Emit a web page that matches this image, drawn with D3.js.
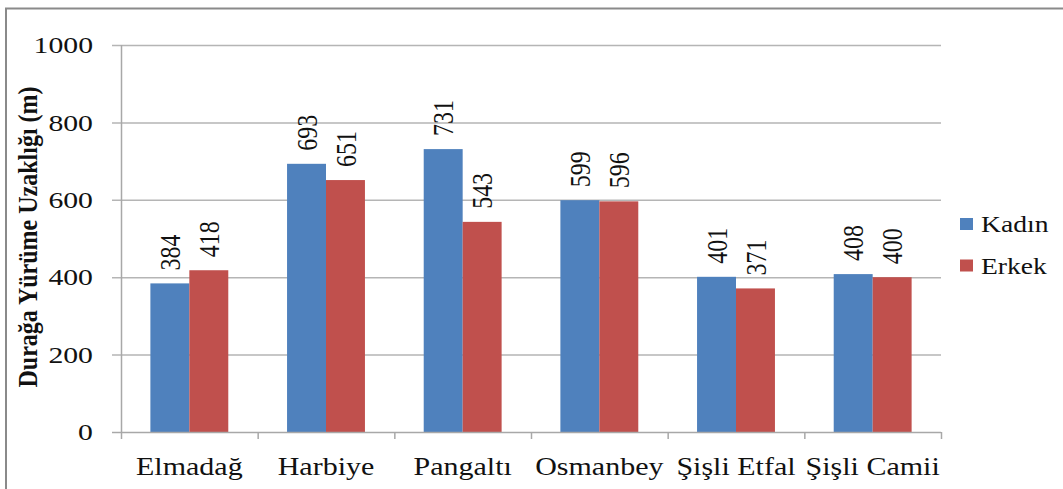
<!DOCTYPE html>
<html>
<head>
<meta charset="utf-8">
<script src="https://cdn.jsdelivr.net/npm/d3@7"></script>
<style>
  html, body { margin: 0; padding: 0; background: #fff; }
  svg { display: block; }
</style>
</head>
<body>
<svg id="chart" width="1063" height="489"></svg>
<script>
const categories = ["Elmadağ", "Harbiye", "Pangaltı", "Osmanbey", "Şişli Etfal", "Şişli Camii"];
const seriesNames = ["Kadın", "Erkek"];
const kadin = [384, 693, 731, 599, 401, 408];
const erkek = [418, 651, 543, 596, 371, 400];
const yTicks = [0, 200, 400, 600, 800, 1000];
const yTitle = "Durağa Yürüme Uzaklığı (m)";
const colors = ["#4F81BD", "#C0504D"];

(function () {
const SX = 1.24; // horizontal stretch of the original image
const FONT = "'Liberation Serif', Tinos, 'Times New Roman', Times, serif";

const svg = d3.select("#chart")
  .attr("font-family", FONT);
const W = 1063, H = 489;

// outer frame
svg.append("rect").attr("x", 6).attr("y", 8.5).attr("width", W + 20).attr("height", H + 20)
  .attr("fill", "none").attr("stroke", "#8a8a8a").attr("stroke-width", 2);

const pL = 121, pR = 941, pT = 45, pB = 432;

const x0 = d3.scaleBand().domain(categories).range([pL, pR]).padding(0);
const x1 = d3.scaleBand().domain(seriesNames)
  .range([x0.bandwidth() * 0.215, x0.bandwidth() * 0.785]).padding(0);
const y = d3.scaleLinear().domain([0, 1000]).range([pB, pT]);

// gridlines + y ticks
const gy = svg.append("g");
gy.selectAll("line.grid").data(yTicks.filter(d => d > 0)).join("line")
  .attr("x1", pL - 9).attr("x2", pR)
  .attr("y1", d => y(d) + 0.5).attr("y2", d => y(d) + 0.5)
  .attr("stroke", "#b5b5b5").attr("stroke-width", 1.5);
gy.append("line").attr("x1", pL - 9).attr("x2", pL)
  .attr("y1", y(0) + 0.5).attr("y2", y(0) + 0.5)
  .attr("stroke", "#a8a8a8").attr("stroke-width", 1.5);
gy.selectAll("text").data(yTicks).join("text")
  .attr("font-family", FONT).attr("fill", "#111")
  .attr("transform", d => `translate(93,${y(d)}) scale(${SX},1)`)
  .attr("text-anchor", "end").attr("dy", "0.34em")
  .attr("font-size", 24)
  .text(d => d);

// y axis line
svg.append("line").attr("x1", pL + 0.5).attr("x2", pL + 0.5)
  .attr("y1", pT).attr("y2", pB)
  .attr("stroke", "#a8a8a8").attr("stroke-width", 1.5);

// bars
const groups = svg.append("g").selectAll("g").data(categories).join("g")
  .attr("transform", d => `translate(${x0(d)},0)`);
const data = categories.map((c, i) => [
  {s: seriesNames[0], v: kadin[i]},
  {s: seriesNames[1], v: erkek[i]}
]);
groups.each(function(c, i) {
  const g = d3.select(this);
  g.selectAll("rect").data(data[i]).join("rect")
    .attr("x", d => x1(d.s)).attr("width", x1.bandwidth())
    .attr("y", d => y(d.v)).attr("height", d => y(0) - y(d.v))
    .attr("fill", (d, j) => colors[j]);
  g.selectAll("text").data(data[i]).join("text")
    .attr("font-family", FONT).attr("fill", "#111")
    .attr("transform", d => `translate(${x1(d.s) + x1.bandwidth() / 2},${y(d.v) - 13}) scale(${SX},1) rotate(-90)`)
    .attr("text-anchor", "start").attr("dy", "0.34em")
    .attr("font-size", 24)
    .text(d => d.v);
});

// x axis line and ticks
svg.append("line").attr("x1", pL).attr("x2", pR)
  .attr("y1", pB + 0.5).attr("y2", pB + 0.5)
  .attr("stroke", "#a8a8a8").attr("stroke-width", 1.5);
const xTickPos = categories.map(c => x0(c)).concat([pR]);
svg.selectAll("line.xt").data(xTickPos).join("line")
  .attr("class", "xt")
  .attr("x1", d => d + 0.5).attr("x2", d => d + 0.5)
  .attr("y1", pB).attr("y2", pB + 7)
  .attr("stroke", "#a8a8a8").attr("stroke-width", 1.5);
svg.selectAll("text.xl").data(categories).join("text")
  .attr("class", "xl")
  .attr("font-family", FONT).attr("fill", "#111")
  .attr("transform", d => `translate(${x0(d) + x0.bandwidth() / 2},475) scale(1.2,1)`)
  .attr("text-anchor", "middle")
  .attr("font-size", 25)
  .text(d => d);

// y title
svg.append("text")
  .attr("font-family", FONT).attr("fill", "#111")
  .attr("transform", `translate(37,237) scale(1.15,1) rotate(-90)`)
  .attr("text-anchor", "middle")
  .attr("font-size", 24).attr("font-weight", "bold")
  .text(yTitle);

// legend
const leg = svg.append("g");
seriesNames.forEach((s, i) => {
  const yy = 218 + i * 41.5;
  leg.append("rect").attr("x", 960).attr("y", yy).attr("width", 13).attr("height", 12)
    .attr("fill", colors[i]);
  leg.append("text")
    .attr("font-family", FONT).attr("fill", "#111")
    .attr("transform", `translate(981,${yy + 14}) scale(1.15,1)`)
    .attr("font-size", 24)
    .text(s);
});
})();
</script>
</body>
</html>
